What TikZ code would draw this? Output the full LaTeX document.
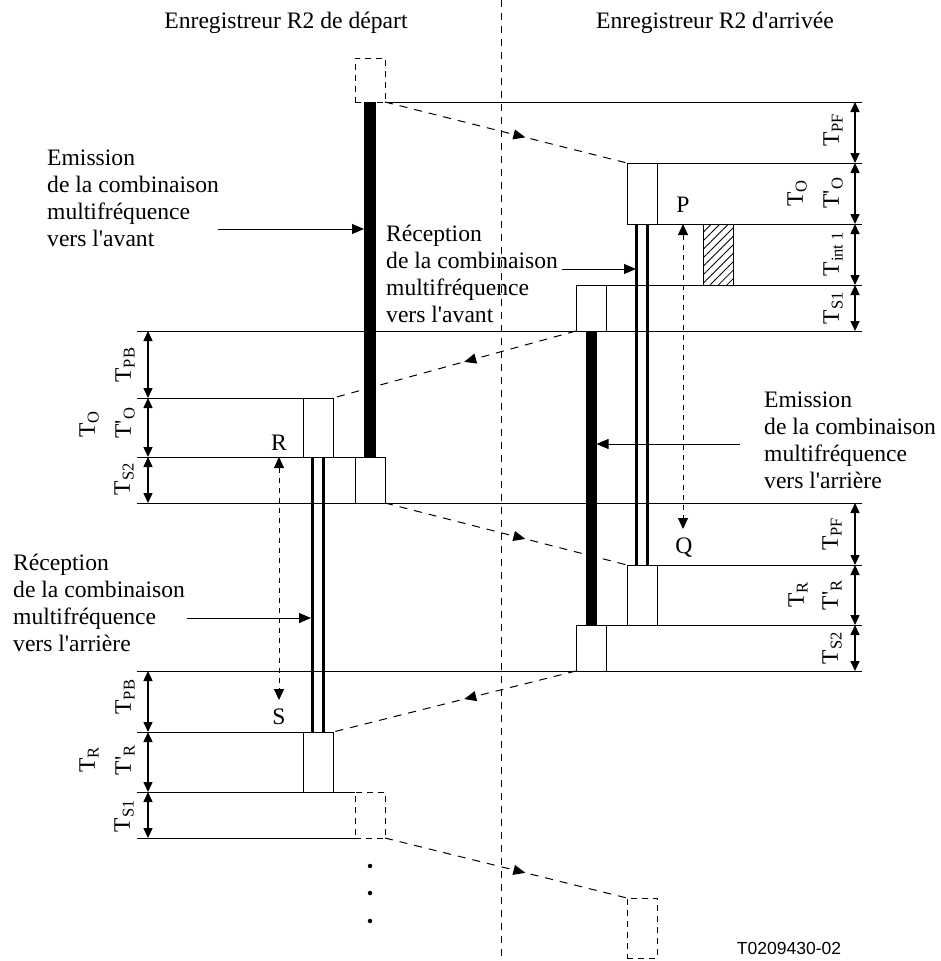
\documentclass[tikz,border=0pt]{standalone}
\usepackage{fontspec}
\setmainfont{Liberation Serif}[Ligatures=TeXOff]
\setsansfont{Liberation Sans}
\usetikzlibrary{arrows.meta,positioning,decorations.markings,patterns.meta}
\tikzset{
    box/.style={rectangle, draw, line width=1pt, minimum width=30pt, inner sep=0, outer sep=0, fill=white},
    ghost/.style={rectangle, draw, line width=1pt, dash pattern=on 6pt off 5pt, minimum width=30pt, inner sep=0, outer sep=0},
    hatch/.style={rectangle, draw, line width=1pt, minimum width=30pt, inner sep=0, outer sep=0, pattern={Lines[angle=45, distance=6pt, line width=0.8pt]}},
    bar/.style={rectangle, fill=black, inner sep=0, outer sep=0},
    rx/.style={double, line width=3pt, double distance=7.5pt},
    level/.style={line width=1pt},
    mid/.style={line width=1pt, dash pattern=on 7pt off 6pt},
    sig/.style={line width=1pt, dash pattern=on 8pt off 7pt, postaction={decorate},
        decoration={markings, mark=at position #1 with {\arrow{Triangle[length=12pt, width=10pt]}}}},
    dim/.style={{Triangle[length=10pt, width=9pt]}-{Triangle[length=10pt, width=9pt]}, line width=1.5pt},
    span/.style={{Triangle[length=11pt, width=10pt]}-{Triangle[length=11pt, width=10pt]}, line width=1pt, dash pattern=on 5pt off 5pt},
    point/.style={-{Triangle[length=12pt, width=10pt]}, line width=1pt},
    note/.style={align=left, anchor=north west, inner sep=0},
    lab/.style={rotate=90, inner sep=0},
    dotn/.style={circle, fill=black, inner sep=0, minimum size=4.5pt},
}

\begin{document}
\begin{tikzpicture}[x=1pt, y=-1pt, font=\fontsize{23.6}{26.8}\selectfont]
    \useasboundingbox (0,0) rectangle (940,961);
    \draw[mid] (501,0) -- (501,961);

    \node[anchor=base] (depart) at (286,28) {Enregistreur R2 de départ};
    \node[anchor=base] (arrivee) at (715,28) {Enregistreur R2 d'arrivée};

    % tone boxes
    \node[ghost, minimum height=44pt, anchor=north west] (d1) at (355,58) {};
    \node[box, minimum height=61pt, anchor=north west] (b1) at (627,163) {};
    \node[hatch, minimum height=61pt, anchor=north west] (gap) at (703,224) {};
    \node[box, minimum height=46pt, anchor=north west] (b2) at (576,285) {};
    \node[box, minimum height=59pt, anchor=north west] (b3) at (303,398) {};
    \node[box, minimum height=46pt, anchor=north west] (b4) at (355,457) {};
    \node[box, minimum height=60pt, anchor=north west] (b5) at (627,565) {};
    \node[box, minimum height=46pt, anchor=north west] (b6) at (576,625) {};
    \node[box, minimum height=60pt, anchor=north west] (b7) at (303,732) {};
    \node[ghost, minimum height=46pt, anchor=north west] (d2) at (355,792) {};
    \node[ghost, minimum height=60pt, anchor=north west] (d3) at (627,898) {};

    \node[bar, minimum width=12pt, minimum height=355pt, anchor=north] (sendfw) at (d1.south) {};
    \node[bar, minimum width=11pt, minimum height=294pt, anchor=north] (sendbw) at (b2.south) {};
    \draw[rx] (b1.south) -- (b5.north);
    \draw[rx] (b3.south) -- (b7.north);

    % levels
    \draw[level] (d1.south east) -- (862,102);
    \draw[level] (b1.north west) -- (862,163);
    \draw[level] (b1.south west) -- (862,224);
    \draw[level] (b2.north west) -- (862,285);
    \draw[level] (137,331) -- (862,331);
    \draw[level] (137,398) -- (b3.north east);
    \draw[level] (137,457) -- (b4.north east);
    \draw[level] (137,503) -- (862,503);
    \draw[level] (b5.north west) -- (862,565);
    \draw[level] (b6.north west) -- (862,625);
    \draw[level] (137,671) -- (862,671);
    \draw[level] (137,732) -- (b7.north east);
    \draw[level] (137,792) -- (d2.north west);
    \draw[level] (137,838) -- (d2.south west);

    % signals
    \draw[sig=0.58] (d1.south east) -- (b1.north west);
    \draw[sig=0.46] (b2.south west) -- (b3.north east);
    \draw[sig=0.58] (b4.south east) -- (b5.north west);
    \draw[sig=0.46] (b6.south west) -- (b7.north east);
    \draw[sig=0.58] (d2.south east) -- (d3.north west);

    \node[dotn] (v1) at (370,866) {};
    \node[dotn] (v2) at (370,893) {};
    \node[dotn] (v3) at (370,921) {};

    % notes
    \node[note] (emitfw) at (47,150) {Emission\\de la combinaison\\multifréquence\\vers l'avant};
    \node[note] (recfw) at (386,225) {Réception\\de la combinaison\\multifréquence\\vers l'avant};
    \node[note] (emitbw) at (764,392) {Emission\\de la combinaison\\multifréquence\\vers l'arrière};
    \node[note] (recbw) at (13,554) {Réception\\de la combinaison\\multifréquence\\vers l'arrière};

    \coordinate (a1) at (218,229);
    \coordinate (a2) at (562,269);
    \coordinate (a2e) at (636,269);
    \coordinate (a3) at (740,444);
    \coordinate (a4) at (187,618);
    \coordinate (a4e) at (311,618);
    \draw[point] (a1) -- (a1 -| sendfw.west);
    \draw[point] (a2) -- (a2e);
    \draw[point] (a3) -- (a3 -| sendbw.east);
    \draw[point] (a4) -- (a4e);

    % P Q R S
    \node (P) at (683,205) {P};
    \node (Q) at (684,548) {Q};
    \node (R) at (279,443) {R};
    \node (S) at (279,717) {S};
    \coordinate (pq) at (683,529);
    \coordinate (rs) at (279,700);
    \draw[span] (P |- b1.south) -- (pq);
    \draw[span] (R |- b4.north) -- (rs);

    % dimensions
    \coordinate (r0) at (855,102);
    \coordinate (r1) at (855,163);
    \coordinate (r2) at (855,224);
    \coordinate (r3) at (855,285);
    \coordinate (r4) at (855,331);
    \coordinate (r5) at (855,503);
    \coordinate (r6) at (855,565);
    \coordinate (r7) at (855,625);
    \coordinate (r8) at (855,671);
    \coordinate (l0) at (148,331);
    \coordinate (l1) at (148,398);
    \coordinate (l2) at (148,457);
    \coordinate (l3) at (148,503);
    \coordinate (l4) at (148,671);
    \coordinate (l5) at (148,732);
    \coordinate (l6) at (148,792);
    \coordinate (l7) at (148,838);
    \draw[dim] (r0) -- (r1);
    \draw[dim] (r1) -- (r2);
    \draw[dim] (r2) -- (r3);
    \draw[dim] (r3) -- (r4);
    \draw[dim] (r5) -- (r6);
    \draw[dim] (r6) -- (r7);
    \draw[dim] (r7) -- (r8);
    \draw[dim] (l0) -- (l1);
    \draw[dim] (l1) -- (l2);
    \draw[dim] (l2) -- (l3);
    \draw[dim] (l4) -- (l5);
    \draw[dim] (l5) -- (l6);
    \draw[dim] (l6) -- (l7);

    \node[lab] (tpf1) at (833,130) {T\textsubscript{PF}};
    \node[lab] (tob1) at (833,193) {T'\textsubscript{O}};
    \node[lab] (to1) at (797,193) {T\textsubscript{O}};
    \node[lab] (tint) at (833,254) {T\textsubscript{int 1}};
    \node[lab] (ts11) at (833,308) {T\textsubscript{S1}};
    \node[lab] (tpf2) at (832,534) {T\textsubscript{PF}};
    \node[lab] (trb2) at (832,595) {T'\textsubscript{R}};
    \node[lab] (tr2) at (798,595) {T\textsubscript{R}};
    \node[lab] (ts22) at (832,648) {T\textsubscript{S2}};
    \node[lab] (tpb1) at (125,365) {T\textsubscript{PB}};
    \node[lab] (tob2) at (125,423) {T'\textsubscript{O}};
    \node[lab] (to2) at (89,424) {T\textsubscript{O}};
    \node[lab] (ts21) at (124,479) {T\textsubscript{S2}};
    \node[lab] (tpb2) at (125,697) {T\textsubscript{PB}};
    \node[lab] (trb1) at (125,760) {T'\textsubscript{R}};
    \node[lab] (tr1) at (89,760) {T\textsubscript{R}};
    \node[lab] (ts12) at (124,816) {T\textsubscript{S1}};

    \node[font=\sffamily\fontsize{17.5}{20}\selectfont] (code) at (789,948) {T0209430-02};
\end{tikzpicture}
\end{document}
